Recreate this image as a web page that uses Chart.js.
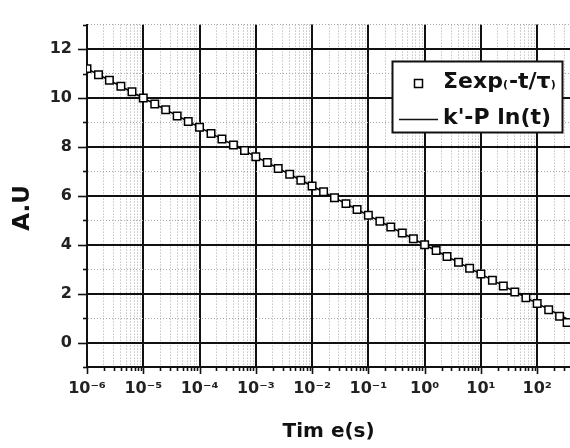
<!DOCTYPE html>
<html><head><meta charset="utf-8">
<script src="https://cdn.jsdelivr.net/npm/chart.js@4"></script>
<style>html,body{margin:0;padding:0;background:#fff;overflow:hidden}#wrap{width:570px;height:448px;overflow:hidden}</style>
</head><body><div id="wrap"><canvas id="c" width="577" height="448"></canvas></div>
<script>
// ---- data ----
const markerTimes = [1e-6, 1.6e-6, 2.5e-6, 4e-6, 6.3e-6,
  1e-5, 1.6e-5, 2.5e-5, 4e-5, 6.3e-5,
  1e-4, 1.6e-4, 2.5e-4, 4e-4, 6.3e-4,
  1e-3, 1.6e-3, 2.5e-3, 4e-3, 6.3e-3,
  1e-2, 1.6e-2, 2.5e-2, 4e-2, 6.3e-2,
  0.1, 0.16, 0.25, 0.4, 0.63,
  1, 1.6, 2.5, 4, 6.3,
  10, 16, 25, 40, 63,
  100, 160, 250, 340];
const markerValues = [11.2, 10.95, 10.72, 10.48, 10.25,
  10.0, 9.75, 9.52, 9.26, 9.04,
  8.80, 8.55, 8.32, 8.08, 7.85,
  7.60, 7.36, 7.12, 6.88, 6.64,
  6.40, 6.17, 5.92, 5.68, 5.44,
  5.20, 4.96, 4.72, 4.48, 4.24,
  4.00, 3.76, 3.52, 3.28, 3.04,
  2.80, 2.55, 2.31, 2.07, 1.83,
  1.60, 1.34, 1.08, 0.82];
const lineTimes = [1e-6, 1e-5, 1e-4, 1e-3, 1e-2, 0.1, 1, 10, 100, 386];
const lineValues = [11.2, 10.0, 8.8, 7.6, 6.4, 5.2, 4.0, 2.8, 1.6, 0.9];
const seriesNames = ['Σexp(-t/τ)', "k'-P ln(t)"];
const xDecades = [1e-6, 1e-5, 1e-4, 1e-3, 1e-2, 1e-1, 1, 10, 100];
const xTickLabels = ['10⁻⁶', '10⁻⁵', '10⁻⁴', '10⁻³', '10⁻²', '10⁻¹', '10⁰', '10¹', '10²'];
const yTickValues = [-1, 0, 1, 2, 3, 4, 5, 6, 7, 8, 9, 10, 11, 12, 13];
const yTickLabels = ['', '0', '', '2', '', '4', '', '6', '', '8', '', '10', '', '12', ''];
const xRange = [1e-6, 386];
const yRange = [-1, 13];
const xTitle = 'Tim e(s)';
const yTitle = 'A.U';

const FONT = "'DejaVu Sans', 'Liberation Sans', sans-serif";

const tickMarks = {
  id: 'tickMarks',
  afterDraw(chart) {
    const ctx = chart.ctx, ca = chart.chartArea;
    const xs = chart.scales.x, ys = chart.scales.y;
    ctx.save();
    ctx.strokeStyle = '#111';
    ctx.lineWidth = 1.6;
    xs.ticks.forEach(t => {
      const px = Math.round(xs.getPixelForValue(t.value)) + 0.5;
      ctx.beginPath();
      ctx.moveTo(px, ca.bottom);
      ctx.lineTo(px, ca.bottom + (t.major ? 7 : 4));
      ctx.stroke();
    });
    ys.ticks.forEach(t => {
      const py = Math.round(ys.getPixelForValue(t.value)) + 0.5;
      ctx.beginPath();
      ctx.moveTo(ca.left, py);
      ctx.lineTo(ca.left - (t.major ? 9 : 4), py);
      ctx.stroke();
    });
    ctx.restore();
  }
};

const boxLegend = {
  id: 'boxLegend',
  afterDraw(chart) {
    const ctx = chart.ctx;
    const ds = chart.data.datasets;
    ctx.save();
    ctx.fillStyle = '#fff';
    ctx.fillRect(392, 61, 170, 71);
    ctx.strokeStyle = '#111';
    ctx.lineWidth = 2;
    ctx.strokeRect(392.5, 61.5, 170, 71);
    // row 1 : marker
    ctx.lineWidth = 1.5;
    ctx.fillStyle = '#fff';
    ctx.strokeStyle = '#000';
    ctx.fillRect(414.5, 79.5, 8, 8);
    ctx.strokeRect(414.5, 79.5, 8, 8);
    // row 1 text, parentheses drawn small
    ctx.fillStyle = '#111';
    ctx.textBaseline = 'alphabetic';
    let x = 443;
    for (const ch of ds[0].label) {
      const small = (ch === '(' || ch === ')');
      ctx.font = 'bold ' + (small ? 11 : 22) + 'px ' + FONT;
      ctx.fillText(ch, x, 88);
      x += ctx.measureText(ch).width + (small ? 1 : 0);
    }
    // row 2 : line
    ctx.strokeStyle = '#111';
    ctx.lineWidth = 1.5;
    ctx.beginPath();
    ctx.moveTo(399, 119.5);
    ctx.lineTo(438, 119.5);
    ctx.stroke();
    ctx.font = 'bold 22px ' + FONT;
    ctx.fillText(ds[1].label, 443, 124);
    ctx.restore();
  }
};

new Chart(document.getElementById('c'), {
  type: 'line',
  data: {
    datasets: [
      {
        label: seriesNames[0],
        data: markerTimes.map((t, i) => ({x: t, y: markerValues[i]})),
        showLine: false,
        pointStyle: 'rect',
        pointRadius: 5.3,
        pointBackgroundColor: '#fff',
        pointBorderColor: '#000',
        pointBorderWidth: 1.5,
        borderColor: '#000'
      },
      {
        label: seriesNames[1],
        data: lineTimes.map((t, i) => ({x: t, y: lineValues[i]})),
        borderColor: '#000',
        borderWidth: 1.5,
        pointRadius: 0,
        tension: 0
      }
    ]
  },
  options: {
    responsive: false,
    devicePixelRatio: 1,
    animation: false,
    layout: {padding: {top: 9, right: 0, left: 0, bottom: 0}},
    plugins: {legend: {display: false}, tooltip: {enabled: false}},
    scales: {
      x: {
        type: 'logarithmic',
        position: 'bottom',
        min: xRange[0],
        max: xRange[1],
        afterBuildTicks(scale) {
          const ticks = [];
          xDecades.forEach(d => {
            ticks.push({value: d, major: true});
            for (let k = 2; k <= 9; k++) {
              if (d * k <= xRange[1]) ticks.push({value: d * k, major: false});
            }
          });
          scale.ticks = ticks;
        },
        afterFit(scale) { scale.height = 81; },
        ticks: {
          autoSkip: false, maxRotation: 0, minRotation: 0,
          padding: 12,
          color: '#222',
          font: {family: FONT, weight: 'bold', size: 16},
          callback(v) {
            const i = xDecades.indexOf(v);
            return i >= 0 ? xTickLabels[i] : '';
          }
        },
        grid: {
          drawTicks: false,
          color: c => (c.tick && c.tick.major) ? '#111' : '#a8a8a8',
          lineWidth: c => (c.tick && c.tick.major) ? 2 : 1
        },
        border: {
          display: true, color: '#111', width: 2,
          dash: c => (c.tick && !c.tick.major) ? [1, 2] : []
        },
        title: {
          display: true, text: xTitle, color: '#111',
          font: {family: FONT, weight: 'bold', size: 20},
          padding: {top: 0, bottom: 4}
        }
      },
      y: {
        type: 'linear',
        min: yRange[0],
        max: yRange[1],
        afterBuildTicks(scale) {
          scale.ticks = yTickValues.map((v, i) => ({value: v, major: yTickLabels[i] !== ''}));
        },
        afterFit(scale) { scale.width = 87; },
        ticks: {
          autoSkip: false,
          padding: 15,
          color: '#222',
          font: {family: FONT, weight: 'bold', size: 16},
          callback(v) {
            const i = yTickValues.indexOf(v);
            return i >= 0 ? yTickLabels[i] : '';
          }
        },
        grid: {
          drawTicks: false,
          color: c => (c.tick && c.tick.major) ? '#111' : '#a8a8a8',
          lineWidth: c => (c.tick && c.tick.major) ? 2 : 1
        },
        border: {
          display: true, color: '#111', width: 2,
          dash: c => (c.tick && !c.tick.major) ? [1, 2] : []
        },
        title: {
          display: true, text: yTitle + '   ', color: '#111',
          font: {family: FONT, weight: 'bold', size: 23},
          padding: {top: 9, bottom: 0}
        }
      }
    }
  },
  plugins: [tickMarks, boxLegend]
});
</script>
</body></html>
